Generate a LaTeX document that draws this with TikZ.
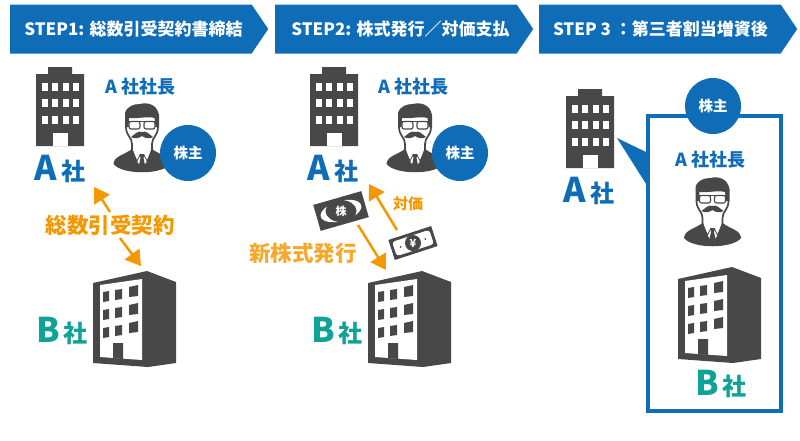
\documentclass[tikz,border=0pt]{standalone}
\usepackage{fontspec}
\setmainfont{Noto Sans CJK JP}
\usetikzlibrary{shapes.symbols, shapes.geometric, arrows.meta}
\definecolor{corpblue}{HTML}{0F6CB6}
\definecolor{corpteal}{HTML}{0FA398}
\definecolor{corporange}{HTML}{F39800}
\definecolor{lightorange}{HTML}{F5A829}
\definecolor{bodydark}{HTML}{484848}
\newcommand{\bigletter}[1]{{\fontsize{34}{34}\selectfont #1}}
\tikzset{
stepbar/.style={signal, signal to=east, signal from=nowhere, signal pointer angle=112, fill=corpblue, text=white, anchor=west, minimum height=49pt, minimum width=258pt, inner xsep=0pt, inner ysep=0pt, font=\bfseries\fontsize{17}{17}\selectfont},
holder/.style={circle, fill=corpblue, text=white, minimum size=56pt, inner sep=0pt, font=\bfseries\fontsize{14.5}{14.5}\selectfont},
corpa/.style={text=corpblue, anchor=base, inner sep=0pt, font=\bfseries\fontsize{24}{24}\selectfont},
corpb/.style={corpa, text=corpteal},
president/.style={text=corpblue, inner sep=0pt, font=\bfseries\fontsize{18}{18}\selectfont},
oranget/.style={text=corporange, inner sep=0pt, font=\bfseries\fontsize{21.5}{21.5}\selectfont},
flow/.style={draw=corporange, line width=2.5pt, -{Triangle[length=15pt, width=18pt]}},
tower/.pic={
  \fill[bodydark] (12,0) -- (36,0) -- (36,7) -- (48,7) -- (48,79) -- (0,79) -- (0,7) -- (12,7) -- cycle;
  \foreach \wx in {6,16,27,37}
    \foreach \wy in {16,32,49}
      \fill[white] (\wx,\wy) rectangle (\wx+6,\wy+8);
  \fill[white] (17,66) rectangle (32,79);
},
office/.pic={
  \fill[bodydark] (0,12) -- (54,0) -- (83,11) -- (83,92) -- (55,96) -- (0,92) -- cycle;
  \fill[white] (7,14) -- (49,8) -- (49,89) -- (7,86) -- cycle;
  \foreach \wy in {0,18,36} {
    \fill[bodydark] (10,21+\wy) -- (16,20+\wy) -- (16,30+\wy) -- (10,31+\wy) -- cycle;
    \fill[bodydark] (22,19+\wy) -- (29,18+\wy) -- (29,28+\wy) -- (22,29+\wy) -- cycle;
    \fill[bodydark] (36,16+\wy) -- (45,14+\wy) -- (45,25+\wy) -- (36,26+\wy) -- cycle;
  }
  \fill[bodydark] (20,72) -- (30,72) -- (30,88) -- (20,87) -- cycle;
},
man/.pic={
  % body
  \fill[bodydark] (-28.5,61) .. controls (-28,53) and (-18,52) .. (-10,46) -- (10,46) .. controls (18,52) and (28,53) .. (28.5,61) .. controls (20,72) and (-20,72) .. (-28.5,61) -- cycle;
  \fill[white] (-10,44) -- (10,44) -- (5,58) -- (0,66) -- (-5,58) -- cycle;
  \fill[bodydark] (-2.5,51) -- (2.5,51) -- (1.5,55) -- (3,62) -- (0,67) -- (-3,62) -- (-1.5,55) -- cycle;
  \draw[bodydark, line width=.8pt] (-10,47) -- (-5,58) -- (-2,52);
  \draw[bodydark, line width=.8pt] (10,47) -- (5,58) -- (2,52);
  % face and hair
  \draw[bodydark, line width=1.7pt] (-16,24) .. controls (-16,33) and (-10,34) .. (-10,41) -- (-10,47);
  \draw[bodydark, line width=1.7pt] (16,24) .. controls (16,33) and (10,34) .. (10,41) -- (10,47);
  \fill[bodydark] (-17,24) -- (-17,10) .. controls (-15,3) and (-8,1) .. (-2,1) .. controls (5,-1) and (15,1) .. (17,12) -- (17,24) -- (13.5,24) -- (12.5,15) .. controls (5,13) and (-5,16) .. (-13,15) -- (-13.5,24) -- cycle;
  \draw[bodydark, line width=1.1pt, rounded corners=2pt, fill=white] (-13,18.5) rectangle (-2,26);
  \draw[bodydark, line width=1.1pt, rounded corners=2pt, fill=white] (2,18.5) rectangle (13,26);
  \draw[bodydark, line width=1.6pt] (-14,18.5) -- (14,18.5);
  \fill[bodydark] (0,29) .. controls (-4,27) and (-8,32) .. (-11,34) .. controls (-7,36.5) and (-3,35) .. (0,33) .. controls (3,35) and (7,36.5) .. (11,34) .. controls (8,32) and (4,27) .. (0,29) -- cycle;
},
stockbill/.pic={
  \fill[bodydark] (-25,-13.5) rectangle (25,13.5);
  \fill[white] (0,0) ellipse [x radius=21, y radius=10];
  \node[ellipse, fill=bodydark, text=white, minimum width=31pt, minimum height=22pt, inner sep=0pt, font=\bfseries\fontsize{11}{11}\selectfont] (-mark) at (0,0) {株};
},
yenbill/.pic={
  \fill[bodydark] (-22.5,-10.5) rectangle (22.5,10.5);
  \fill[white, rounded corners=3pt] (-19.5,-7.5) rectangle (19.5,7.5);
  \node[circle, fill=bodydark, text=white, minimum size=16pt, inner sep=0pt, font=\bfseries\fontsize{11}{11}\selectfont] (-mark) at (0,0) {¥};
  \fill[bodydark] (-13,0) circle (1);
  \fill[bodydark] (13,0) circle (1);
}}
\begin{document}
\begin{tikzpicture}[x=1pt, y=-1pt]
\useasboundingbox (0,0) rectangle (800,440);
\node [stepbar] (step1) at (10,29) {\hspace*{5pt}STEP1: 総数引受契約書締結};
\node [stepbar] (step2) at (275,29) {\hspace*{9pt}STEP2: 株式発行／対価支払};
\node [stepbar] (step3) at (539,29) {\hspace*{1pt}STEP 3 ：第三者割当増資後};
% step 1
\pic (towerA) at (36,67) {tower};
\pic (manA) at (142,103) {man};
\pic (officeB) at (93,271) {office};
\node [president] (presA) at (140,87) {A 社社長};
\node [holder] (holderA) at (188,153) {株主};
\node [corpa] (nameA) at (60,180) {\bigletter{A}\,社};
\node [corpb] (nameB) at (62,342) {\bigletter{B}\,社};
\node [oranget] (contract) at (110,225) {総数引受契約};
\coordinate (upA) at (94,187);
\coordinate (upB) at (110,212);
\coordinate (downA) at (120,238);
\coordinate (downB) at (141,266);
\draw [flow] (upB) -- (upA);
\draw [flow] (downA) -- (downB);
% step 2
\pic (towerA2) at (310,67) {tower};
\pic (manA2) at (415,103) {man};
\pic (officeB2) at (368,271) {office};
\node [president] (presA2) at (413,87) {A 社社長};
\node [holder] (holderA2) at (460,153) {株主};
\node [corpa] (nameA2) at (333,180) {\bigletter{A}\,社};
\node [corpb] (nameB2) at (337,342) {\bigletter{B}\,社};
\node [oranget, text=lightorange] (issue) at (303,253) {新株式発行};
\node [oranget, font=\bfseries\fontsize{15}{15}\selectfont] (price) at (408,204) {対価};
\pic [rotate=16] (bill1) at (341,211) {stockbill};
\pic [rotate=18] (bill2) at (413,243) {yenbill};
\coordinate (payA) at (397,230);
\coordinate (payB) at (369,184);
\coordinate (stockA) at (358,225);
\coordinate (stockB) at (386,270);
\draw [flow] (payA) -- (payB);
\draw [flow] (stockA) -- (stockB);
% step 3
\pic (towerA3) at (566,89) {tower};
\node [corpa] (nameA3) at (589,202) {\bigletter{A}\,社};
\coordinate (tip) at (617,138);
\coordinate (baseA) at (648,153);
\coordinate (baseB) at (648,187);
\fill [corpblue] (tip) -- (baseA) -- (baseB) -- cycle;
\node [draw=corpblue, line width=4.5pt, minimum width=133pt, minimum height=295pt, inner sep=0pt] (frame) at (714.5,263.5) {};
\node [holder] (holderA3) at (713,106) {株主};
\node [president] (presA3) at (710,160) {A 社社長};
\pic (manA3) at (712.5,177) {man};
\pic (officeB3) at (678,267) {office};
\node [corpb] (nameB3) at (721,395) {\bigletter{B}\,社};
\end{tikzpicture}
\end{document}
